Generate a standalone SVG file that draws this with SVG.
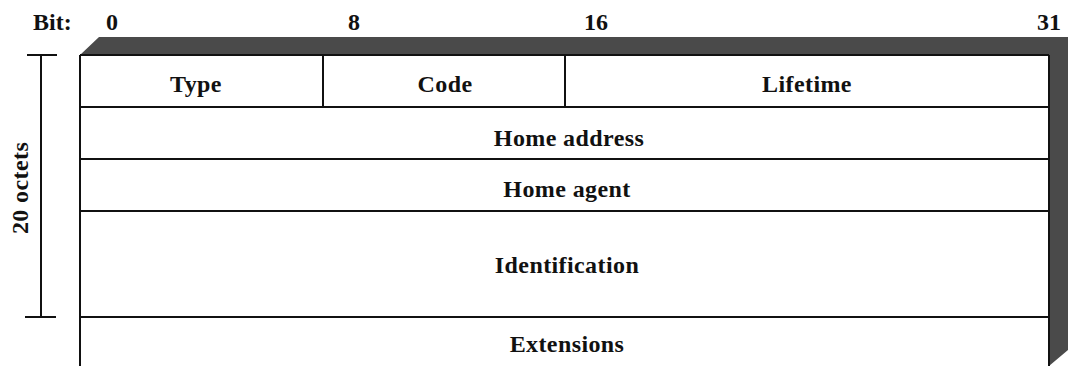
<svg xmlns="http://www.w3.org/2000/svg" width="1073" height="366" viewBox="0 0 1073 366">
<style>
text{font-family:"Liberation Serif",serif;font-weight:bold;fill:#111}
.lbl{font-size:24px;text-anchor:middle;letter-spacing:0.4px}
.bit{font-size:24px}
.ln{stroke:#111;stroke-width:2;fill:none}
</style>
<rect width="1073" height="366" fill="#fff"/>
<g id="bits">
<text class="bit" x="33" y="30">Bit:</text>
<text class="bit" x="106" y="30">0</text>
<text class="bit" x="348" y="30">8</text>
<text class="bit" x="584" y="30">16</text>
<text class="bit" x="1037" y="30">31</text>
</g>
<g id="shading">
<polygon points="80,55 99,37 1068,37 1068,350 1049,366 1049,55" fill="#4a4a4a"/>
</g>
<g id="frame">
<line class="ln" x1="80" y1="55" x2="80" y2="366"/>
<line class="ln" x1="80" y1="55" x2="1049" y2="55"/>
<line class="ln" x1="1049" y1="55" x2="1049" y2="366"/>
</g>
<g id="row1">
<line class="ln" x1="80" y1="107" x2="1049" y2="107"/>
<line class="ln" x1="323" y1="55" x2="323" y2="107"/>
<line class="ln" x1="565" y1="55" x2="565" y2="107"/>
<text class="lbl" x="196" y="92">Type</text>
<text class="lbl" x="445" y="92">Code</text>
<text class="lbl" x="807" y="92">Lifetime</text>
</g>
<g id="home-address">
<line class="ln" x1="80" y1="159" x2="1049" y2="159"/>
<text class="lbl" x="569" y="146">Home address</text>
</g>
<g id="home-agent">
<line class="ln" x1="80" y1="211" x2="1049" y2="211"/>
<text class="lbl" x="567" y="197">Home agent</text>
</g>
<g id="identification">
<line class="ln" x1="80" y1="317" x2="1049" y2="317"/>
<text class="lbl" x="567" y="273">Identification</text>
</g>
<g id="extensions">
<text class="lbl" x="567" y="352">Extensions</text>
</g>
<g id="connectors">
<line class="ln" x1="27" y1="55" x2="57" y2="55"/>
<line class="ln" x1="41" y1="55" x2="41" y2="317"/>
<line class="ln" x1="25" y1="317" x2="56" y2="317"/>
</g>
<g id="octets">
<text class="lbl" transform="translate(28,188) rotate(-90)">20 octets</text>
</g>
</svg>
